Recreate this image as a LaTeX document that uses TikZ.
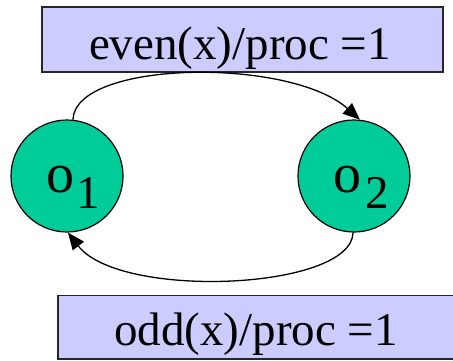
\documentclass[tikz,border=0pt]{standalone}
\usepackage{fontspec}
\setmainfont{Liberation Serif}
\usetikzlibrary{arrows.meta}
\definecolor{stategreen}{HTML}{00CC99}
\definecolor{lav}{HTML}{CCCCFF}
\begin{document}
\begin{tikzpicture}[x=1pt,y=-1pt,
  statenode/.style={circle,draw=black,line width=1.2pt,fill=stategreen,minimum size=112pt,inner sep=0pt},
  labelbox/.style={draw=black!85,line width=1.2pt,fill=lav},
  bigtext/.style={anchor=base,inner sep=0pt,font=\fontsize{47}{47}\selectfont},
  conn/.style={line width=1.3pt,-{Triangle[length=17pt,width=14pt]}}]
\useasboundingbox (0,0) rectangle (453,360);
% boxes
\path[labelbox] (42,7) rectangle (443,72);
\path[labelbox] (58,295.5) rectangle (460,359);
\node[bigtext] (t1) at (240,59) {even(x)/proc =1};
\node[bigtext] (t2) at (256,345) {odd(x)/proc =1};
% states
\node[statenode] (o1) at (67,176) {};
\node[statenode] (o2) at (354,176) {};
\node[anchor=base,inner sep=0pt,font=\fontsize{56}{56}\selectfont] (o1l) at (60,192) {o};
\node[anchor=base,inner sep=0pt,font=\fontsize{47}{47}\selectfont] (o1s) at (88,208) {1};
\node[anchor=base,inner sep=0pt,font=\fontsize{56}{56}\selectfont] (o2l) at (347,192) {o};
\node[anchor=base,inner sep=0pt,font=\fontsize{47}{47}\selectfont] (o2s) at (377,208) {2};
% connectors
\draw[conn] (o1.84) .. controls (75,60) and (290,57) .. (o2.84);
\draw[conn] (o2.-91) .. controls (352,290) and (120,300) .. (o1.-89);
\end{tikzpicture}
\end{document}
